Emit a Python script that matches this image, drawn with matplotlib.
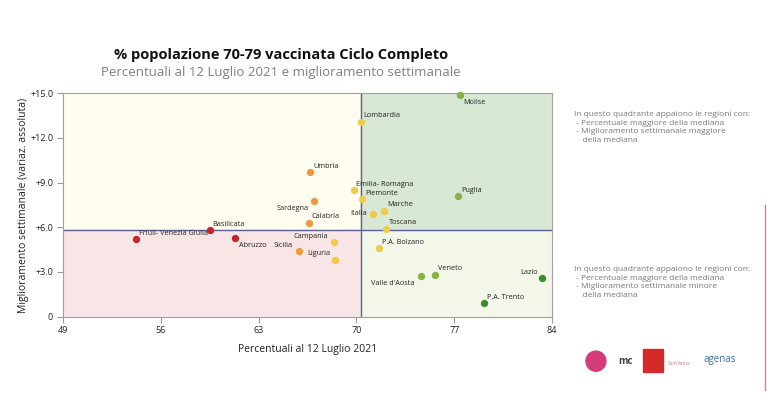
import matplotlib.pyplot as plt
from matplotlib.patches import Rectangle, Ellipse

plt.rcParams['font.family'] = ['Open Sans', 'DejaVu Sans']

# dati
regioni = ['Molise', 'Lombardia', 'Emilia- Romagna', 'Piemonte', 'Italia', 'Marche',
           'Toscana', 'Puglia', 'Umbria', 'Sardegna', 'Calabria', 'Basilicata',
           'Friuli- Venezia Giulia', 'Abruzzo', 'Sicilia', 'Campania', 'Liguria',
           'P.A. Bolzano', "Valle d'Aosta", 'Veneto', 'Lazio', 'P.A. Trento']
percentuale = [77.4, 70.3, 69.8, 70.4, 71.2, 72.0, 72.1, 77.3, 66.7, 67.0, 66.6, 59.5,
               54.2, 61.3, 65.9, 68.4, 68.5, 71.6, 74.6, 75.6, 83.3, 79.1]
miglioramento = [14.9, 13.1, 8.5, 7.9, 6.9, 7.1, 5.9, 8.1, 9.7, 7.8, 6.3, 5.8,
                 5.2, 5.3, 4.4, 5.0, 3.8, 4.6, 2.7, 2.8, 2.6, 0.9]
classe = ['vchiaro', 'giallo', 'giallo', 'giallo', 'giallo', 'giallo',
          'giallo', 'vchiaro', 'arancio', 'arancio', 'arancio', 'rosso',
          'rosso', 'rosso', 'arancio', 'giallo', 'giallo',
          'giallo', 'vchiaro', 'vchiaro', 'vscuro', 'vscuro']
mediana_x = 70.35
mediana_y = 5.85
x_ticks = [49, 56, 63, 70, 77, 84]
y_ticks = [0, 3, 6, 9, 12, 15]
y_tick_labels = ['0', '+3.0', '+6.0', '+9.0', '+12.0', '+15.0']

colori = {'rosso': '#C3262A', 'arancio': '#E99B3E', 'giallo': '#F1CB48',
          'vchiaro': '#8AB245', 'vscuro': '#3C8A2E'}

# offset etichette (pixel) e allineamento
offset = {'Molise': (3, -8, 'left'), 'Italia': (-6, 0, 'right'),
          'Sardegna': (-6, -8, 'right'), 'Abruzzo': (4, -8, 'left'),
          'Sicilia': (-6, 6, 'right'), 'Campania': (-6, 6, 'right'),
          'Liguria': (-5, 7, 'right'), "Valle d'Aosta": (-6, -7, 'right'),
          'Lazio': (-4, 5, 'right'), 'Emilia- Romagna': (2, 6, 'left')}

fig = plt.figure(figsize=(7.67, 4.19), dpi=100)
ax = fig.add_axes([0.0821, 0.2442, 0.6376, 0.5332])
ax.set_xlim(49, 84)
ax.set_ylim(0, 15)

# quadranti
ax.add_patch(Rectangle((49, mediana_y), mediana_x - 49, 15 - mediana_y, color='#FFFDEF', zorder=0))
ax.add_patch(Rectangle((mediana_x, mediana_y), 84 - mediana_x, 15 - mediana_y, color='#D9E8D5', zorder=0))
ax.add_patch(Rectangle((49, 0), mediana_x - 49, mediana_y, color='#F8E5E5', zorder=0))
ax.add_patch(Rectangle((mediana_x, 0), 84 - mediana_x, mediana_y, color='#F3F7EA', zorder=0))
ax.axvline(mediana_x, color='#5B5F96', lw=1.0, zorder=1)
ax.axhline(mediana_y, color='#5B5F96', lw=1.0, zorder=1)

for nome, x, y, c in zip(regioni, percentuale, miglioramento, classe):
    ax.scatter(x, y, s=28, color=colori[c], zorder=3, linewidths=0, clip_on=False)
    dx, dy, ha = offset.get(nome, (3, 6, 'left'))
    ax.annotate(nome, (x, y), xytext=(dx * 0.72, dy * 0.72), textcoords='offset points',
                ha=ha, va='center', fontsize=5.2, color='#222222', zorder=4)

ax.set_xticks(x_ticks)
ax.set_yticks(y_ticks)
ax.set_yticklabels(y_tick_labels)
ax.tick_params(labelsize=6.5, length=4, color='#999999', labelcolor='#222222', pad=3)
for s in ax.spines.values():
    s.set_color('#A0A0A0')
    s.set_linewidth(0.8)

ax.set_xlabel('Percentuali al 12 Luglio 2021', fontsize=7.5, color='#222222', labelpad=6)
ax.set_ylabel('Miglioramento settimanale (variaz. assoluta)', fontsize=7.5, color='#222222', labelpad=1)

fig.text(0.366, 0.868, '% popolazione 70-79 vaccinata Ciclo Completo', ha='center', va='center',
         fontsize=10.5, fontweight='bold', color='#111111')
fig.text(0.366, 0.826, 'Percentuali al 12 Luglio 2021 e miglioramento settimanale', ha='center',
         va='center', fontsize=9.5, color='#808080')

txt_sopra = ('In questo quadrante appaiono le regioni con:\n - Percentuale maggiore della mediana\n'
             ' - Miglioramento settimanale maggiore\n    della mediana')
txt_sotto = ('In questo quadrante appaiono le regioni con:\n - Percentuale maggiore della mediana\n'
             ' - Miglioramento settimanale minore\n    della mediana')
fig.text(0.748, 0.735, txt_sopra, ha='left', va='top', fontsize=6.0, color='#7A7A7A', linespacing=1.3)
fig.text(0.748, 0.365, txt_sotto, ha='left', va='top', fontsize=6.0, color='#7A7A7A', linespacing=1.3)

# linea decorativa a destra
fig.add_artist(plt.Line2D([0.997, 0.997], [0.07, 0.51], color='#D98080', lw=1.0))

# loghi (approssimati)
fig.add_artist(Ellipse((0.777, 0.138), 0.026, 0.048, color='#D63C7A', transform=fig.transFigure))
fig.text(0.815, 0.138, 'mc', fontsize=7, color='#444444', ha='center', va='center', fontweight='bold')
fig.add_artist(Rectangle((0.838, 0.112), 0.027, 0.055, color='#D42A2A', transform=fig.transFigure))
fig.text(0.885, 0.132, 'Sant\'Anna', fontsize=3.5, color='#C08080', ha='center', va='center')
fig.text(0.938, 0.143, 'agenas', fontsize=7, color='#3A6EB0', ha='center', va='center')

plt.savefig('out.png', dpi=100)
